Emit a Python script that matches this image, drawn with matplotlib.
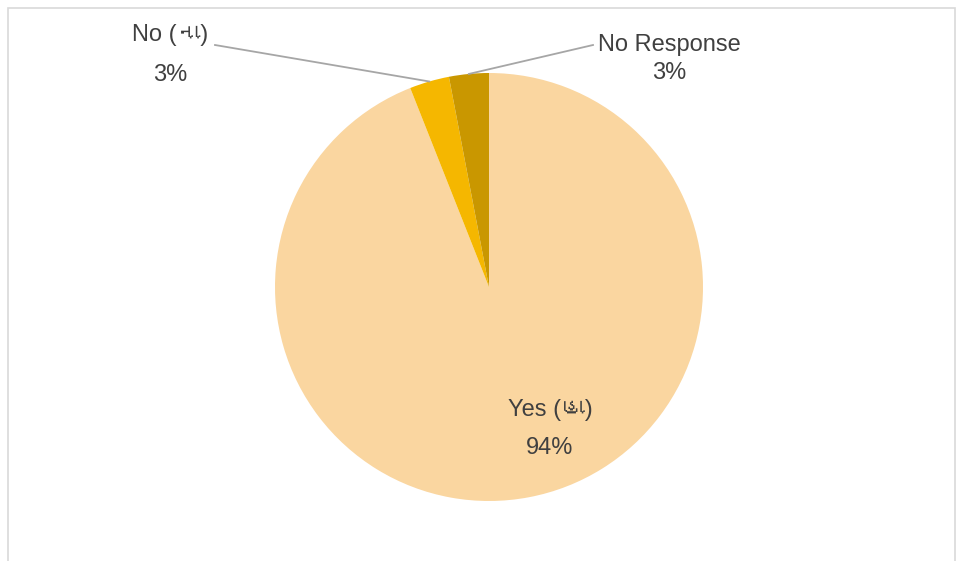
import matplotlib
matplotlib.use('Agg')
import matplotlib.pyplot as plt
from matplotlib import font_manager
from matplotlib.ft2font import FT2Font
from matplotlib.patches import Rectangle
import numpy as np

labels = ['Yes (હા)', 'No (ના)', 'No Response']
values = [94, 3, 3]
colors = ['#FAD6A0', '#F5B700', '#C99700']

# look for any installed font that has Gujarati letters
guj_family = None
for f in font_manager.fontManager.ttflist:
    try:
        cmap = FT2Font(f.fname).get_charmap()
    except Exception:
        continue
    if 0x0A95 in cmap and 0x0ABE in cmap:
        guj_family = f.name
        break

families = ['Liberation Sans']
if guj_family:
    families.append(guj_family)
families.append('DejaVu Sans')
plt.rcParams['font.family'] = families

W, H = 962, 561
cx, cy, r = 489, 287, 214

fig = plt.figure(figsize=(W / 100, H / 100), dpi=100)
ax = fig.add_axes([0, 0, 1, 1])
ax.axis('off')

# chart frame
fig.patches.append(Rectangle((8 / W, -0.1), (955 - 8) / W, 1.1 - 8 / H,
                             transform=fig.transFigure, fill=False,
                             edgecolor='#D9D9D9', linewidth=1.2))

wedges, _ = ax.pie(values, colors=colors, startangle=90, counterclock=False,
                   radius=1, wedgeprops=dict(linewidth=0))
ax.set_aspect('auto')
ax.set_xlim(-cx / r, (W - cx) / r)
ax.set_ylim(-(H - cy) / r, cy / r)

def px(x, y):
    return (x - cx) / r, (cy - y) / r

txt_color = '#404040'
fs = 17

# Yes label inside
ax.text(*px(550, 410), labels[0], ha='center', va='center', fontsize=fs, color=txt_color)
ax.text(*px(550, 448), f'{values[0]}%', ha='center', va='center', fontsize=fs, color=txt_color)

# small slices with leader lines: text x, text y, second line gap, line start
label_pos = {1: (170, 35, 40, 215, 45), 2: (669, 45, 28, 593, 45)}
for i in (1, 2):
    w = wedges[i]
    ang = np.deg2rad((w.theta1 + w.theta2) / 2)
    ex, ey = np.cos(ang), np.sin(ang)
    tx, ty, gap, lx, ly = label_pos[i]
    ax.plot([px(lx, ly)[0], ex], [px(lx, ly)[1], ey], color='#A6A6A6', linewidth=1.3)
    ax.text(*px(tx, ty), labels[i], ha='center', va='center', fontsize=fs, color=txt_color)
    ax.text(*px(tx, ty + gap), f'{values[i]}%', ha='center', va='center', fontsize=fs, color=txt_color)

fig.savefig('out.png', dpi=100)
